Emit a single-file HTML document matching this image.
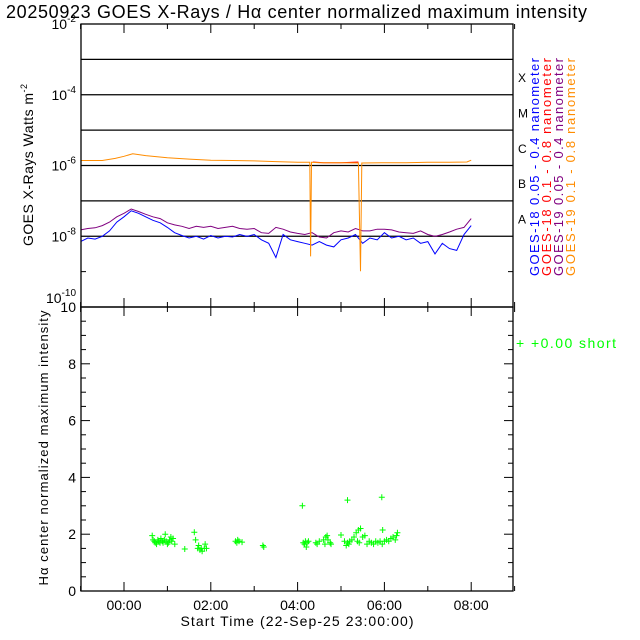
<!DOCTYPE html>
<html><head><meta charset="utf-8"><style>
html,body{margin:0;padding:0;background:#fff;}
svg{display:block;font-family:"Liberation Sans",sans-serif;}
</style></head><body>
<svg id="chart" width="640" height="640" viewBox="0 0 640 640" xmlns="http://www.w3.org/2000/svg">
<rect width="640" height="640" fill="#fff"/>
<text x="6" y="18" font-size="18" textLength="581" lengthAdjust="spacing" fill="#000">20250923 GOES X-Rays / Hα center normalized maximum intensity</text>
<g id="topPanel"></g><g id="botPanel"></g>
</svg>
<script>
const hourTicks=[0,2,4,6,8];
const hourTickLabels=["00:00","02:00","04:00","06:00","08:00"];
const goesTimes=[];for(let i=0;i<=54;i++)goesTimes.push(-1+i/6);
const blueLog=[-8.15,-8.05,-8.08,-8.0,-7.85,-7.6,-7.45,-7.28,-7.35,-7.45,-7.55,-7.62,-7.75,-7.9,-7.98,-8.05,-8.0,-8.08,-7.98,-8.05,-8.0,-8.02,-7.95,-8.0,-7.95,-8.1,-8.2,-8.6,-7.95,-8.1,-8.15,-8.2,-8.25,-8.15,-8.25,-8.3,-8.1,-8.05,-7.95,-8.2,-8.05,-8.1,-7.9,-8.05,-8.0,-8.1,-8.05,-8.2,-8.15,-8.5,-8.2,-8.35,-8.4,-7.95,-7.7];
const purpleLog=[-7.82,-7.78,-7.76,-7.7,-7.6,-7.45,-7.35,-7.23,-7.3,-7.38,-7.45,-7.5,-7.62,-7.68,-7.72,-7.78,-7.72,-7.75,-7.72,-7.78,-7.75,-7.72,-7.78,-7.8,-7.78,-7.9,-7.92,-7.75,-7.8,-7.88,-7.92,-7.95,-7.9,-8.02,-8.05,-7.9,-7.85,-7.88,-7.78,-7.85,-7.85,-7.8,-7.8,-7.82,-7.88,-7.9,-7.92,-7.85,-7.95,-8.0,-7.95,-7.88,-7.8,-7.75,-7.5];
const orangeTimes=[-1,-0.5,-0.2,0,0.2,0.5,1,1.5,2,2.5,3,3.5,4,4.28,4.3,4.32,4.5,5,5.4,5.45,5.48,6,6.5,7,7.5,7.9,8];
const orangeLog=[-5.86,-5.86,-5.8,-5.74,-5.67,-5.72,-5.78,-5.82,-5.85,-5.86,-5.87,-5.89,-5.91,-5.91,-8.57,-5.91,-5.92,-5.92,-5.93,-8.99,-5.93,-5.92,-5.92,-5.91,-5.91,-5.9,-5.85];
const redTimes=[4.35,4.6,5.0,5.4];
const redLog=[-5.9,-5.92,-5.92,-5.9];
const haTimes=[0.65,0.67,0.7,0.72,0.75,0.78,0.8,0.83,0.85,0.88,0.9,0.93,0.95,0.97,1.0,1.02,1.05,1.08,1.1,1.13,1.17,1.4,1.62,1.65,1.7,1.72,1.75,1.78,1.8,1.85,1.87,1.9,2.57,2.6,2.62,2.65,2.72,3.2,3.22,4.11,4.13,4.16,4.18,4.2,4.22,4.25,4.42,4.45,4.5,4.6,4.63,4.65,4.68,4.7,4.75,4.77,5.0,5.08,5.12,5.15,5.18,5.2,5.15,5.25,5.3,5.35,5.4,5.45,5.38,5.42,5.5,5.55,5.6,5.65,5.7,5.75,5.8,5.85,5.9,5.95,5.96,5.94,6.0,6.05,6.1,6.15,6.2,6.25,6.28,6.3];
const haValues=[1.95,1.8,1.75,1.7,1.65,1.8,1.75,1.7,1.85,1.75,1.7,1.8,2.0,1.75,1.65,1.7,1.8,1.9,1.75,1.85,1.65,1.48,2.07,1.8,1.5,1.6,1.45,1.5,1.4,1.5,1.65,1.5,1.75,1.7,1.8,1.75,1.72,1.6,1.55,3.0,1.7,1.65,1.75,1.55,1.7,1.75,1.7,1.65,1.75,1.8,1.65,1.9,1.95,1.8,1.7,1.65,1.97,1.75,1.6,1.7,1.65,1.75,3.2,1.8,1.9,2.05,2.15,2.2,1.75,1.7,1.9,1.95,1.65,1.75,1.7,1.65,1.75,1.7,1.75,1.65,2.15,3.3,1.75,1.8,1.75,1.85,1.9,1.8,1.95,2.05];

const NS="http://www.w3.org/2000/svg";
const L=81,R=513,T1=24,B1=307,T2=307,B2=591;
const xS=h=>124+h*43.4;
const yTop=lg=>T1+(-2-lg)*(B1-T1)/8;
const yBot=v=>B2-v*(B2-T2)/10;
function mk(tag,attrs,parent){const e=document.createElementNS(NS,tag);for(const k in attrs)e.setAttribute(k,attrs[k]);parent.appendChild(e);return e;}
const topG=document.getElementById('topPanel'),botG=document.getElementById('botPanel');

for(let d=-3;d>=-8;d--){const l=mk('line',{x1:L,x2:R,y1:yTop(d),y2:yTop(d),stroke:'#000','stroke-width':1.3},topG);

}
for(const d of [-2,-4,-6,-8,-10]){const yy=d===-10?yTop(d)-4:yTop(d)+5;const t=mk('text',{x:76,y:yy,'font-size':14,'text-anchor':'end'},topG);


t.innerHTML='10<tspan dy="-7" font-size="10">'+d+'</tspan>';}
mk('line',{x1:L,x2:L+5,y1:yTop(-9),y2:yTop(-9),stroke:'#000'},topG);mk('line',{x1:R,x2:R-5,y1:yTop(-9),y2:yTop(-9),stroke:'#000'},topG);
const cls=["X","M","C","B","A"];
cls.forEach((c,i)=>{const t=mk('text',{x:518,y:yTop(-3.5-i)+5,'font-size':12},topG);t.textContent=c;

});
const yt=mk('text',{transform:'translate(33,165) rotate(-90)','text-anchor':'middle','font-size':14,textLength:162,lengthAdjust:'spacing'},topG);


yt.innerHTML='GOES X-Rays Watts m<tspan dy="-6" font-size="9">-2</tspan>';

function line(ts,vs,col,name){const p=mk('polyline',{points:ts.map((t,i)=>xS(t).toFixed(1)+','+yTop(vs[i]).toFixed(1)).join(' '),fill:'none',stroke:col,'stroke-width':1},topG);

}
line(goesTimes,purpleLog,'#800080','goes19-short-series');
line(goesTimes,blueLog,'#0000ff','goes18-short-series');
line(redTimes,redLog,'#ff0000','goes18-long-series');
line(orangeTimes,orangeLog,'#ff8c00','goes19-long-series');

const leg=[["GOES-18 0.05 - 0.4 nanometer","#0000ff"],["GOES-18 0.1 - 0.8 nanometer","#ff0000"],["GOES-19 0.05 - 0.4 nanometer","#800080"],["GOES-19 0.1 - 0.8 nanometer","#ff8c00"]];
leg.forEach((g,i)=>{const t=mk('text',{transform:'translate('+(539+i*12)+',276) rotate(-90)','font-size':13,fill:g[1],textLength:218,lengthAdjust:'spacing'},topG);t.textContent=g[0];

});

[[T1,B1],[T2,B2]].forEach(([a,b])=>{const r=mk('rect',{x:L,y:a,width:R-L,height:b-a,fill:'none',stroke:'#000','stroke-width':1.3},topG);


for(let h=-1;h<=9;h++){const len=(h%2===0)?9:5;mk('line',{x1:xS(h),x2:xS(h),y1:a,y2:a+len,stroke:'#000'},topG);mk('line',{x1:xS(h),x2:xS(h),y1:b,y2:b-len,stroke:'#000'},topG);}});

for(let v=0;v<=10;v+=0.5){const len=(v%2===0)?9:5;mk('line',{x1:L,x2:L+len,y1:yBot(v),y2:yBot(v),stroke:'#000'},botG);mk('line',{x1:R,x2:R-len,y1:yBot(v),y2:yBot(v),stroke:'#000'},botG);
if(v%2===0){const t=mk('text',{x:76,y:yBot(v)+5,'font-size':14,'text-anchor':'end'},botG);t.textContent=v;

}}
hourTicks.forEach((h,i)=>{const t=mk('text',{x:xS(h),y:610,'font-size':14,'text-anchor':'middle'},botG);t.textContent=hourTickLabels[i];

});
const xt=mk('text',{x:297,y:626,'font-size':14,'text-anchor':'middle',textLength:233,lengthAdjust:'spacing'},botG);xt.textContent='Start Time (22-Sep-25 23:00:00)';


const yb=mk('text',{transform:'translate(48,448) rotate(-90)','text-anchor':'middle','font-size':13,textLength:275,lengthAdjust:'spacing'},botG);yb.textContent='Hα center normalized maximum intensity';


haTimes.forEach((t,i)=>{const x=xS(t),y=yBot(haValues[i]);const p=mk('path',{d:`M${x-3},${y}h6M${x},${y-3}v6`,stroke:'#00ff00','stroke-width':1},botG);

});
const gl=mk('text',{x:516,y:348,'font-size':14,fill:'#00ff00',textLength:100,lengthAdjust:'spacing'},botG);gl.textContent='+  +0.00 short';


</script>
</body></html>
